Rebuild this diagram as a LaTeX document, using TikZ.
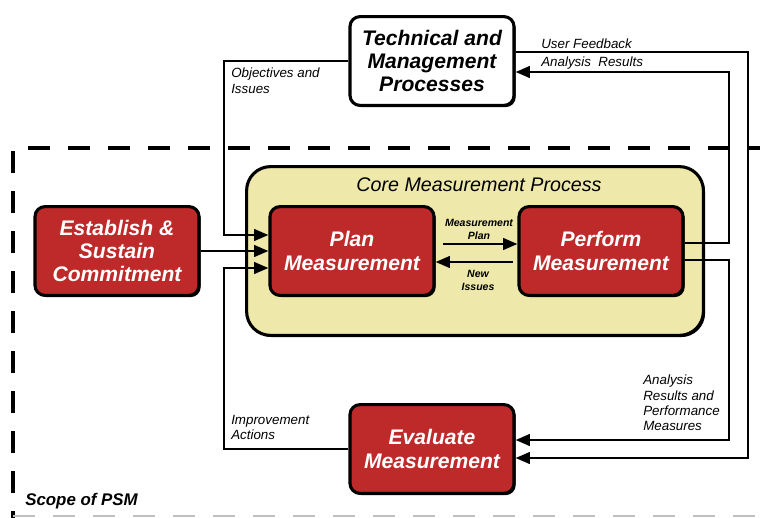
\documentclass[tikz,border=0pt]{standalone}
\usepackage{fontspec}
\setmainfont{Liberation Sans}
\usepackage{tikz}
\usetikzlibrary{arrows.meta,shadows,calc,positioning}

\definecolor{psmred}{RGB}{190,42,42}
\definecolor{psmyellow}{RGB}{238,233,170}

\tikzset{ProcStyle/.style={draw=black, line width=2.2pt, rounded corners=2.5mm,
    minimum width=41mm, minimum height=22.2mm, align=center,
    font=\fontsize{15}{16.5}\selectfont\bfseries\itshape,
    drop shadow={shadow xshift=1.2pt,shadow yshift=-1.2pt,opacity=1,fill=black}}}
\tikzset{RedStyle/.style={ProcStyle, fill=psmred, text=white}}
\tikzset{NoteStyle/.style={inner sep=0pt, align=left, font=\fontsize{9.5}{10.8}\selectfont\itshape}}

\begin{document}
\begin{tikzpicture}[x=0.25mm,y=-0.25mm]
\tikzstyle{FlowStyle}=[line width=1.8pt, -{Triangle[length=3.6mm,width=2.9mm]}]
\tikzstyle{TinyStyle}=[inner sep=0pt, align=center, font=\fontsize{7.5}{9.2}\selectfont\bfseries\itshape]

\useasboundingbox (0,0) rectangle (760,517);
\clip (0,0) rectangle (760,517);

% scope of PSM
\draw[line width=2.8pt, dash pattern=on 5.5mm off 4.5mm] (770,148) -- (13,148) -- (13,530);
\draw[black!25, line width=1pt, dash pattern=on 5.5mm off 4.5mm] (13,516) -- (760,516);
\node[anchor=west, inner sep=0pt, font=\fontsize{12}{14}\selectfont\bfseries\itshape] (scope) at (25,501) {Scope of PSM};

% core process
\node[draw=black, line width=2.2pt, fill=psmyellow, rounded corners=6mm,
      minimum width=114.2mm, minimum height=42.2mm,
      drop shadow={shadow xshift=1.2pt,shadow yshift=-1.2pt,opacity=1,fill=black}] (core) at (475,251) {};
\node[font=\fontsize{14}{16}\selectfont\itshape] (coretitle) at (479,185) {Core Measurement Process};

% boxes
\node[ProcStyle, fill=white] (tmp) at (432,61) {Technical and\\Management\\Processes};
\node[RedStyle] (establish) at (117,251) {Establish \&\\Sustain\\Commitment};
\node[RedStyle] (plan) at (352,251) {Plan\\Measurement};
\node[RedStyle] (perform) at (601,251) {Perform\\Measurement};
\node[RedStyle] (evaluate) at (432,449) {Evaluate\\Measurement};

% turning points
\coordinate (objturn) at (224,235);
\coordinate (impturn) at (224,268);
\coordinate (mplan) at (443,244);
\coordinate (nissue) at (513,262);
\coordinate (arturn) at (729,243);
\coordinate (artop) at (729,72);
\coordinate (prturn) at (729,260);
\coordinate (prbot) at (729,440);
\coordinate (uftop) at (748,52);
\coordinate (ufbot) at (748,458);

\draw[FlowStyle] (tmp.west) -| (objturn) -- (objturn -| plan.west);
\draw[FlowStyle] (establish.east) -- (establish.east -| plan.west);
\draw[FlowStyle] (evaluate.west) -| (impturn) -- (impturn -| plan.west);

\draw[FlowStyle] (mplan) -- (mplan -| perform.west);
\draw[FlowStyle] (nissue) -- (nissue -| plan.east);

\draw[FlowStyle] (arturn -| perform.east) -- (arturn) -- (artop) -- (artop -| tmp.east);
\draw[FlowStyle] (prturn -| perform.east) -- (prturn) -- (prbot) -- (prbot -| evaluate.east);
\draw[FlowStyle] (uftop -| tmp.east) -- (uftop) -- (ufbot) -- (ufbot -| evaluate.east);

% labels
\node[NoteStyle, anchor=north west] (objlabel) at (231,68) {Objectives and\\Issues};
\node[NoteStyle, anchor=west] (uflabel) at (541,44) {User Feedback};
\node[NoteStyle, anchor=west] (arlabel) at (541,63) {Analysis~ Results};
\node[NoteStyle, anchor=north west] (implabel) at (231,415) {Improvement\\Actions};
\node[NoteStyle, anchor=north west] (prlabel) at (643,375) {Analysis\\Results and\\Performance\\Measures};
\node[TinyStyle] (mplabel) at (479,229) {Measurement\\Plan};
\node[TinyStyle] (nilabel) at (478,280) {New\\Issues};
\end{tikzpicture}
\end{document}
